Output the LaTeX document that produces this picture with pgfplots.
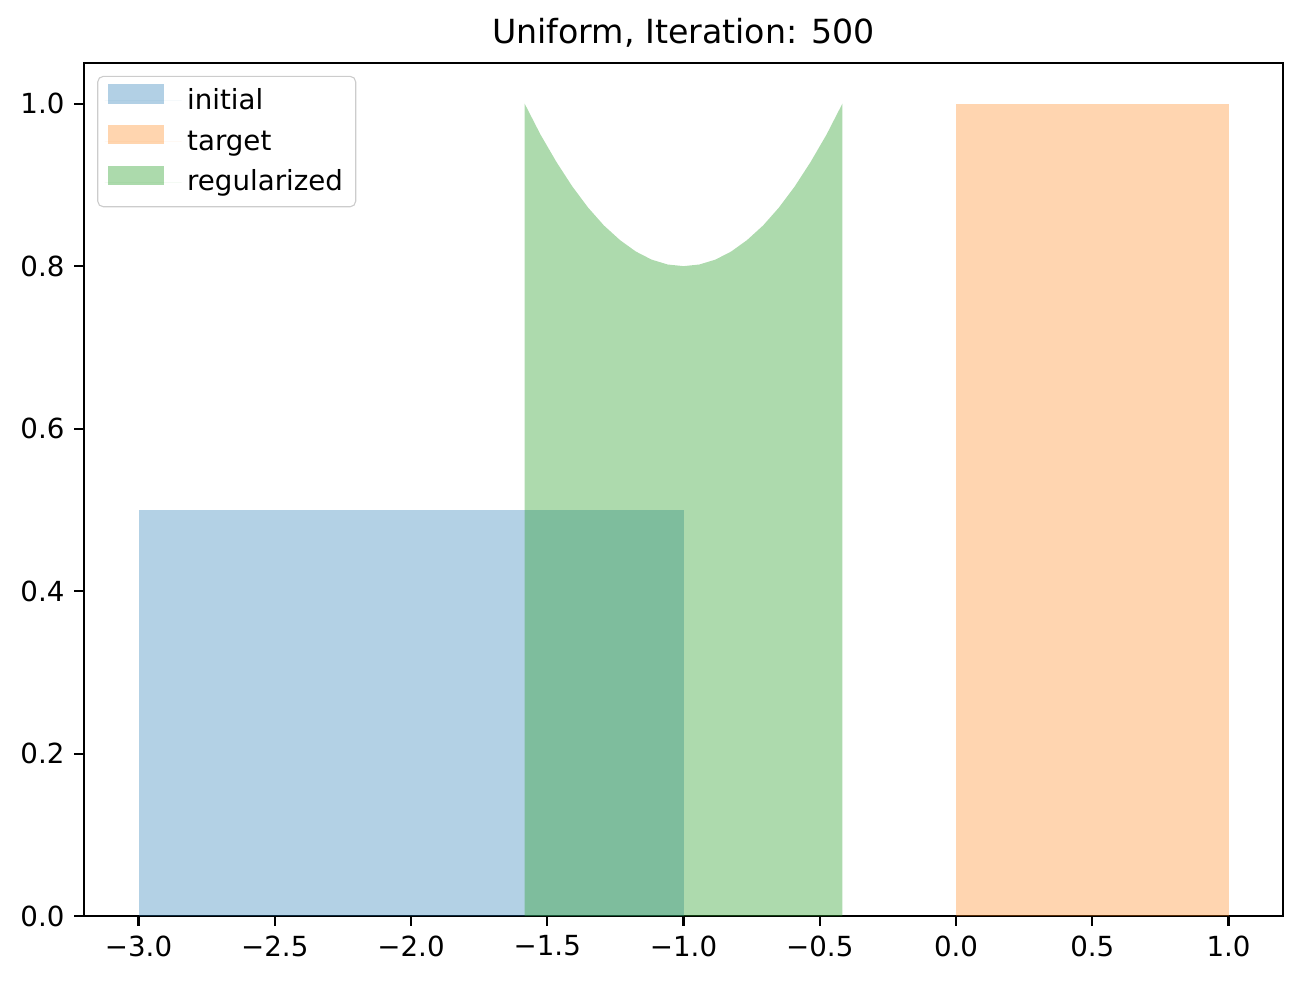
\documentclass[border=0pt]{standalone}
\usepackage{fontspec}
\setmainfont{DejaVu Sans}
\usepackage{pgfplots}
\pgfplotsset{compat=1.18}
\definecolor{c0}{HTML}{1F77B4}
\definecolor{c1}{HTML}{FF7F0E}
\definecolor{c2}{HTML}{2CA02C}
\begin{document}
\begin{tikzpicture}
\begin{axis}[
  scale only axis, width=431.6bp, height=307.1bp,
  xmin=-3.2, xmax=1.2, ymin=0, ymax=1.05,
  xtick={-3,-2.5,-2,-1.5,-1,-0.5,0,0.5,1},
  xticklabels={−3.0,−2.5,−2.0,−1.5,−1.0,−0.5,0.0,0.5,1.0},
  ytick={0,0.2,0.4,0.6,0.8,1.0},
  yticklabels={0.0,0.2,0.4,0.6,0.8,1.0},
  tick pos=left, tick align=outside, major tick length=3.5bp,
  tick style={line width=0.8bp, black},
  axis line style={line width=0.8bp},
  ticklabel style={font=\fontsize{10}{12}\selectfont},
  title={Uniform, Iteration: 500},
  title style={font=\fontsize{12}{14}\selectfont, at={(0.5,1)}, anchor=base, yshift=1bp},
  legend style={at={(0.011,0.985)}, anchor=north west, draw=black!20, rounded corners=2bp,
    fill=white, fill opacity=0.8, text opacity=1, font=\fontsize{10}{12}\selectfont,
    row sep=1.6bp, inner xsep=2.6bp, inner ysep=2.3bp},
  legend cell align=left,
  legend image code/.code={\fill[#1, sharp corners] (1.1bp,-1bp) rectangle (21.1bp,6bp); \path (0bp,0bp) -- (27.6bp,0bp);},
]
\addplot[fill=c0, fill opacity=0.34, draw=none] coordinates {(-3,0) (-3,0.5) (-1,0.5) (-1,0)} -- cycle;
\addlegendentry{initial\vphantom{dg}}
\addplot[fill=c1, fill opacity=0.33, draw=none] coordinates {(0,0) (0,1) (1,1) (1,0)} -- cycle;
\addlegendentry{target\vphantom{dg}}
\addplot[fill=c2, fill opacity=0.39, draw=none] coordinates {
 (-1.583,0) (-1.583,1.000) (-1.525,0.962) (-1.466,0.928) (-1.408,0.898) (-1.350,0.872)
 (-1.292,0.850) (-1.233,0.832) (-1.175,0.818) (-1.117,0.808) (-1.058,0.802) (-1.000,0.800)
 (-0.942,0.802) (-0.883,0.808) (-0.825,0.818) (-0.767,0.832) (-0.708,0.850) (-0.650,0.872)
 (-0.592,0.898) (-0.534,0.928) (-0.475,0.962) (-0.417,1.000) (-0.417,0)} -- cycle;
\addlegendentry{regularized\vphantom{dg}}
\coordinate (SW) at (rel axis cs:0,0);
\coordinate (NE) at (rel axis cs:1,1);
\end{axis}
\pgfresetboundingbox
\path[use as bounding box] ([shift={(-30.24bp,-24.48bp)}]SW) rectangle ([shift={(7.56bp,22.68bp)}]NE);
\end{tikzpicture}
\end{document}
